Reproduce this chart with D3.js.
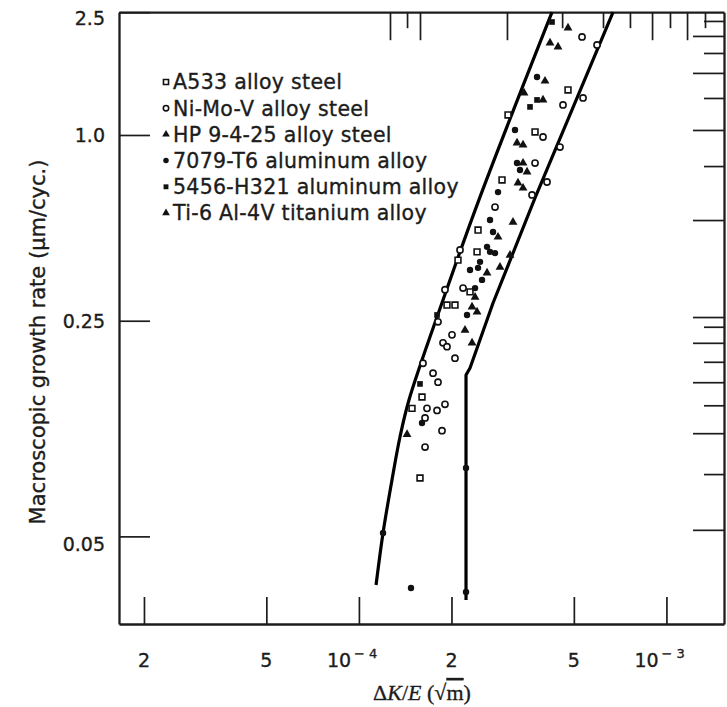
<!DOCTYPE html>
<html><head><meta charset="utf-8">
<script src="https://cdn.jsdelivr.net/npm/d3@7"></script>
<style>body{margin:0;background:#fff}svg{display:block}</style>
</head><body>
<svg id="c" width="727" height="707"></svg>
<script>
// ---------------- DATA ----------------
const seriesNames = ["A533 alloy steel","Ni-Mo-V alloy steel","HP 9-4-25 alloy steel","7079-T6 aluminum alloy","5456-H321 aluminum alloy","Ti-6 Al-4V titanium alloy"];
const seriesSymbols = ["openSquare","openCircle","triangle","circle","square","triangle"];

const a533 = [[4.786e-4,1.399],[3.054e-4,1.161],[3.739e-4,1.023],[2.920e-4,0.715],[2.440e-4,0.492],[2.422e-4,0.418],[2.100e-4,0.393],[2.298e-4,0.310],[1.934e-4,0.281],[2.053e-4,0.281],[1.604e-4,0.1415],[1.488e-4,0.130],[1.580e-4,0.0773]];
const niMoV = [[5.316e-4,2.078],[5.948e-4,1.957],[5.356e-4,1.318],[4.610e-4,1.251],[3.969e-4,0.985],[4.508e-4,0.914],[3.739e-4,0.811],[4.090e-4,0.704],[3.656e-4,0.639],[2.771e-4,0.584],[2.132e-4,0.424],[2.181e-4,0.319],[1.905e-4,0.315],[1.808e-4,0.248],[2.008e-4,0.225],[1.877e-4,0.212],[1.934e-4,0.206],[2.053e-4,0.189],[1.616e-4,0.182],[1.742e-4,0.169],[1.808e-4,0.158],[1.665e-4,0.130],[1.795e-4,0.128],[1.905e-4,0.134],[1.641e-4,0.121],[1.863e-4,0.110],[1.641e-4,0.0974]];
const hp9425 = [[4.441e-4,1.929],[4.029e-4,1.496],[3.969e-4,1.299],[3.267e-4,0.942],[3.418e-4,0.811],[3.291e-4,0.699],[3.418e-4,0.673],[2.834e-4,0.467],[2.876e-4,0.373],[2.386e-4,0.298],[2.333e-4,0.277],[2.213e-4,0.233],[1.434e-4,0.107]];
const al7079 = [[3.795e-4,1.542],[3.218e-4,1.038],[3.267e-4,0.811],[3.341e-4,0.770],[2.834e-4,0.653],[2.669e-4,0.530],[2.730e-4,0.485],[2.610e-4,0.434],[2.669e-4,0.418],[2.771e-4,0.414],[2.477e-4,0.388],[2.298e-4,0.365],[2.440e-4,0.371],[2.514e-4,0.339],[2.386e-4,0.319],[2.247e-4,0.261],[1.604e-4,0.1165],[1.477e-4,0.0340],[2.230e-4,0.0833],[2.230e-4,0.0330],[1.198e-4,0.0513]];
const al5456 = [[4.246e-4,2.324],[3.795e-4,1.299],[3.601e-4,1.233],[1.795e-4,0.261],[1.580e-4,0.156]];
const ti64 = [[4.786e-4,2.223],[4.183e-4,1.987],[3.443e-4,1.368],[3.418e-4,0.928],[3.522e-4,0.759],[3.170e-4,0.522],[3.100e-4,0.408],[2.610e-4,0.357],[2.422e-4,0.267],[2.333e-4,0.212]];
const seriesData = [a533, niMoV, hp9425, al7079, al5456, ti64];

const leftBound = [[1.137e-4,0.0348],[1.198e-4,0.0513],[1.281e-4,0.0762],[1.360e-4,0.105],[1.455e-4,0.1384],[1.877e-4,0.2918],[2.477e-4,0.630],[4.246e-4,2.50]];
const rightBound = [[6.706e-4,2.50],[3.739e-4,0.625],[2.730e-4,0.2853],[2.298e-4,0.1757],[2.230e-4,0.1668],[2.230e-4,0.0311]];

const xTicks = [2e-5,5e-5,1e-4,2e-4,5e-4,1e-3];
const xTickLabels = ["2","5","10^−4","2","5","10^−3"];
const yTicks = [2.5,1.0,0.25,0.05];
const yTickLabels = ["2.5","1.0","0.25","0.05"];
const topTicks = [1.262e-4,1.434e-4,1.58e-4,3.03e-4,4.58e-4,6.22e-4,7.61e-4,8.98e-4,1.027e-3,1.167e-3,1.335e-3];
const topTickLong = [1,0,1,1,0,0,0,1,0,1,0];
const rightTicks = [2.342,2.094,1.844,1.589,1.318,1.038,0.793,0.530,0.257,0.239,0.212,0.184,0.158,0.133,0.108,0.0796,0.0525];
const rightTickLong = [0,1,0,1,0,1,0,1,1,0,1,0,1,0,1,0,1];

// ---------------- LAYOUT ----------------
const frame = {l:119, r:724, t:12.2, b:624};
const svg = d3.select("#c");
svg.append("rect").attr("width",727).attr("height",707).attr("fill","#fff");
const x = d3.scaleLog().domain([1.659e-5,1.539e-3]).range([frame.l,frame.r]);
const y = d3.scaleLog().domain([0.026,2.5]).range([frame.b,frame.t]);
const ink = "#1c1c1c";
const sans = "'DejaVu Sans', sans-serif";

function styleAxis(g, w){
  g.select(".domain").attr("stroke",ink).attr("stroke-width",w);
  g.selectAll(".tick line").attr("stroke",ink).attr("stroke-width",1.7);
  g.selectAll(".tick text").remove();
}
const gB = svg.append("g").attr("transform",`translate(0,${frame.b})`)
  .call(d3.axisBottom(x).tickValues(xTicks).tickSize(-27).tickSizeOuter(0));
styleAxis(gB,2.3);
const gL = svg.append("g").attr("transform",`translate(${frame.l},0)`)
  .call(d3.axisLeft(y).tickValues(yTicks).tickSize(-31).tickSizeOuter(0));
styleAxis(gL,2.3);
const gT = svg.append("g").attr("transform",`translate(0,${frame.t})`)
  .call(d3.axisTop(x).tickValues(topTicks).tickSize(-28).tickSizeOuter(0));
styleAxis(gT,2.3);
gT.selectAll(".tick line").attr("y2",(d,i)=>topTickLong[i]?28:16);
const gR = svg.append("g").attr("transform",`translate(${frame.r},0)`)
  .call(d3.axisRight(y).tickValues(rightTicks).tickSize(-30).tickSizeOuter(0));
styleAxis(gR,2.3);
gR.selectAll(".tick line").attr("x2",(d,i)=>rightTickLong[i]?-31:-20);

function bolden(t){ return t.attr("stroke",ink).attr("stroke-width",0.35); }

xTicks.forEach((v,i)=>{
  const lab = xTickLabels[i];
  const t = svg.append("text").attr("y",667).attr("font-family",sans).attr("font-size",19).attr("fill",ink);
  bolden(t);
  if(lab.includes("^")){
    const [b,e] = lab.split("^");
    t.attr("x",x(v)-32).attr("text-anchor","start");
    t.append("tspan").text(b);
    t.append("tspan").attr("dx",3).attr("dy",-9).attr("font-size",13).text(e.replace("−","− "));
  } else {
    t.attr("x",x(v)).attr("text-anchor","middle").text(lab);
  }
});
const yNudge = [6,0,0,8];
yTicks.forEach((v,i)=>{
  bolden(svg.append("text").attr("x",105).attr("y",y(v)+yNudge[i]).attr("dy","0.36em")
    .attr("text-anchor","end").attr("font-family",sans).attr("font-size",19).attr("fill",ink)
    .text(yTickLabels[i]));
});

bolden(svg.append("text").attr("transform","translate(45,342) rotate(-90)").attr("text-anchor","middle")
  .attr("font-family",sans).attr("font-size",21).attr("fill",ink)
  .text("Macroscopic growth rate (μm/cyc.)"));
const xt = svg.append("text").attr("x",422).attr("y",700).attr("text-anchor","middle")
  .attr("font-family","'Liberation Serif', serif").attr("font-size",22).attr("fill",ink);
bolden(xt);
xt.append("tspan").text("Δ");
xt.append("tspan").attr("font-style","italic").text("K");
xt.append("tspan").text("/");
xt.append("tspan").attr("font-style","italic").text("E");
xt.append("tspan").text(" (√");
xt.append("tspan").attr("text-decoration","overline").text("m");
xt.append("tspan").text(")");

const line = d3.line().x(d=>x(d[0])).y(d=>y(d[1]));
svg.append("path").datum(leftBound).attr("fill","none").attr("stroke","#000").attr("stroke-width",3.2)
  .attr("d",line.curve(d3.curveCatmullRom.alpha(0.5)));
svg.append("path").datum(rightBound).attr("fill","none").attr("stroke","#000").attr("stroke-width",3.2)
  .attr("stroke-linejoin","round").attr("d",d3.line().x(d=>x(d[0])).y(d=>y(d[1])));

function drawSym(sel, type, scale){
  const s = scale||1;
  if(type==="openSquare") sel.attr("d",d3.symbol(d3.symbolSquare,34*s)).attr("fill","#fff").attr("stroke","#111").attr("stroke-width",1.6);
  else if(type==="openCircle") sel.attr("d",d3.symbol(d3.symbolCircle,30*s)).attr("fill","#fff").attr("stroke","#111").attr("stroke-width",1.6);
  else if(type==="triangle") sel.attr("d",d3.symbol(d3.symbolTriangle,34*s)).attr("fill","#111");
  else if(type==="circle") sel.attr("d",d3.symbol(d3.symbolCircle,32*s)).attr("fill","#111");
  else if(type==="square") sel.attr("d",d3.symbol(d3.symbolSquare,32*s)).attr("fill","#111");
}
seriesData.forEach((data,si)=>{
  const g = svg.append("g");
  const p = g.selectAll("path").data(data).join("path")
    .attr("transform",d=>`translate(${x(d[0])},${y(d[1])})`);
  drawSym(p, seriesSymbols[si]);
});

const lg = svg.append("g");
seriesNames.forEach((n,i)=>{
  const cy = 82 + i*26.2;
  const m = lg.append("path").attr("transform",`translate(166,${cy})`);
  drawSym(m, seriesSymbols[i], 0.75);
  bolden(lg.append("text").attr("x",173).attr("y",cy).attr("dy","0.36em")
    .attr("font-family",sans).attr("font-size",20.5).attr("letter-spacing",0.3).attr("fill",ink).text(n));
});
</script>
</body></html>
